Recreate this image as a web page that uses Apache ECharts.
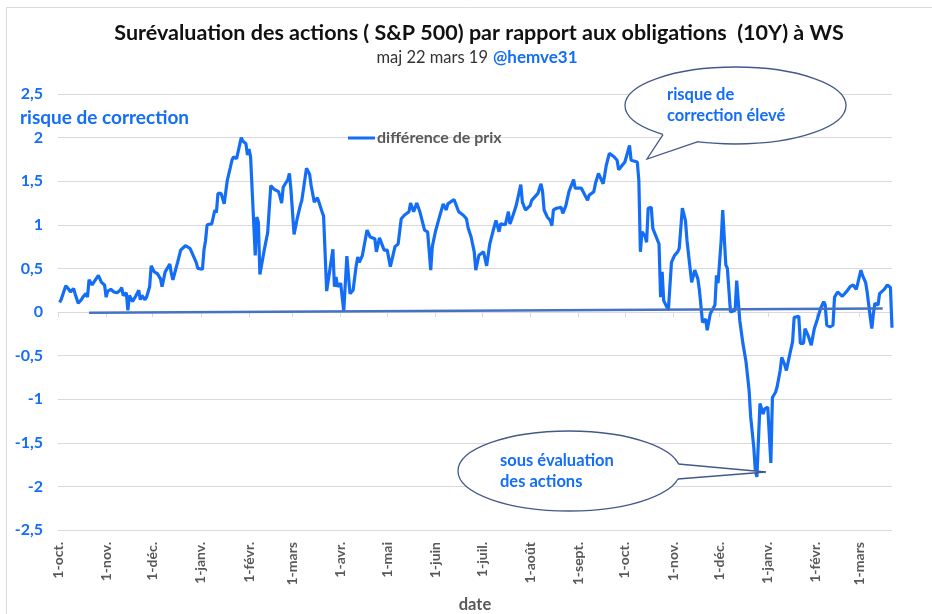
<!DOCTYPE html>
<html>
<head>
<meta charset="utf-8">
<script src="https://cdn.jsdelivr.net/npm/echarts@6/dist/echarts.min.js"></script>
<style>
  html, body { margin: 0; background: #fff; }
  #chart { width: 932px; height: 614px; }
</style>
</head>
<body>
<div id="chart"></div>
<script>
// axe des dates (un jour par catégorie)
var axisStart = '2017-10-01'
var axisEnd = '2019-03-22'
var monthNames = ['janv.', 'févr.', 'mars', 'avr.', 'mai', 'juin', 'juil.', 'août', 'sept.', 'oct.', 'nov.', 'déc.']

// différence de prix
var dates = [
  '2017-10-02', '2017-10-03', '2017-10-04', '2017-10-06', '2017-10-08', '2017-10-09', '2017-10-11', '2017-10-12',
  '2017-10-14', '2017-10-16', '2017-10-17', '2017-10-19', '2017-10-20', '2017-10-21', '2017-10-23', '2017-10-24',
  '2017-10-27', '2017-10-29', '2017-10-31', '2017-11-01', '2017-11-02', '2017-11-04', '2017-11-06', '2017-11-08',
  '2017-11-10', '2017-11-11', '2017-11-12', '2017-11-14', '2017-11-15', '2017-11-16', '2017-11-18', '2017-11-19',
  '2017-11-20', '2017-11-22', '2017-11-23', '2017-11-24', '2017-11-26', '2017-11-27', '2017-11-29', '2017-11-30',
  '2017-12-02', '2017-12-04', '2017-12-06', '2017-12-07', '2017-12-08', '2017-12-09', '2017-12-10', '2017-12-12',
  '2017-12-13', '2017-12-14', '2017-12-17', '2017-12-19', '2017-12-22', '2017-12-25', '2017-12-28', '2017-12-29',
  '2017-12-30', '2018-01-02', '2018-01-03', '2018-01-04', '2018-01-05', '2018-01-08', '2018-01-09', '2018-01-10',
  '2018-01-11', '2018-01-12', '2018-01-14', '2018-01-16', '2018-01-18', '2018-01-20', '2018-01-21', '2018-01-22',
  '2018-01-24', '2018-01-25', '2018-01-27', '2018-01-28', '2018-01-30', '2018-01-31', '2018-02-01', '2018-02-02',
  '2018-02-05', '2018-02-06', '2018-02-07', '2018-02-08', '2018-02-11', '2018-02-13', '2018-02-14', '2018-02-15',
  '2018-02-17', '2018-02-20', '2018-02-21', '2018-02-22', '2018-02-23', '2018-02-26', '2018-02-27', '2018-02-28',
  '2018-03-02', '2018-03-04', '2018-03-06', '2018-03-07', '2018-03-08', '2018-03-10', '2018-03-12', '2018-03-13',
  '2018-03-15', '2018-03-17', '2018-03-18', '2018-03-20', '2018-03-21', '2018-03-23', '2018-03-27', '2018-03-28',
  '2018-03-29', '2018-03-30', '2018-04-01', '2018-04-03', '2018-04-05', '2018-04-07', '2018-04-09', '2018-04-11',
  '2018-04-12', '2018-04-13', '2018-04-15', '2018-04-18', '2018-04-20', '2018-04-23', '2018-04-24', '2018-04-26',
  '2018-04-29', '2018-05-01', '2018-05-03', '2018-05-06', '2018-05-08', '2018-05-10', '2018-05-12', '2018-05-15',
  '2018-05-16', '2018-05-18', '2018-05-20', '2018-05-22', '2018-05-25', '2018-05-27', '2018-05-29', '2018-05-30',
  '2018-06-01', '2018-06-03', '2018-06-06', '2018-06-08', '2018-06-09', '2018-06-13', '2018-06-16', '2018-06-19',
  '2018-06-21', '2018-06-22', '2018-06-24', '2018-06-26', '2018-06-27', '2018-06-29', '2018-07-02', '2018-07-04',
  '2018-07-06', '2018-07-08', '2018-07-10', '2018-07-12', '2018-07-13', '2018-07-16', '2018-07-18', '2018-07-19',
  '2018-07-21', '2018-07-23', '2018-07-26', '2018-07-27', '2018-07-29', '2018-08-01', '2018-08-02', '2018-08-06',
  '2018-08-08', '2018-08-09', '2018-08-10', '2018-08-12', '2018-08-14', '2018-08-15', '2018-08-16', '2018-08-18',
  '2018-08-21', '2018-08-22', '2018-08-24', '2018-08-26', '2018-08-29', '2018-08-30', '2018-09-03', '2018-09-07',
  '2018-09-08', '2018-09-11', '2018-09-12', '2018-09-14', '2018-09-17', '2018-09-18', '2018-09-19', '2018-09-21',
  '2018-09-24', '2018-09-26', '2018-09-27', '2018-10-01', '2018-10-04', '2018-10-05', '2018-10-09', '2018-10-10',
  '2018-10-11', '2018-10-12', '2018-10-14', '2018-10-15', '2018-10-16', '2018-10-18', '2018-10-19', '2018-10-20',
  '2018-10-23', '2018-10-24', '2018-10-25', '2018-10-26', '2018-10-29', '2018-10-31', '2018-11-02', '2018-11-04',
  '2018-11-05', '2018-11-07', '2018-11-09', '2018-11-10', '2018-11-13', '2018-11-15', '2018-11-17', '2018-11-18',
  '2018-11-20', '2018-11-22', '2018-11-23', '2018-11-25', '2018-11-28', '2018-11-29', '2018-11-30', '2018-12-02',
  '2018-12-03', '2018-12-05', '2018-12-06', '2018-12-08', '2018-12-11', '2018-12-12', '2018-12-14', '2018-12-16',
  '2018-12-18', '2018-12-20', '2018-12-21', '2018-12-23', '2018-12-24', '2018-12-25', '2018-12-27', '2018-12-28',
  '2018-12-29', '2018-12-30', '2019-01-01', '2019-01-03', '2019-01-04', '2019-01-06', '2019-01-07', '2019-01-09',
  '2019-01-10', '2019-01-12', '2019-01-13', '2019-01-15', '2019-01-17', '2019-01-18', '2019-01-19', '2019-01-21',
  '2019-01-22', '2019-01-24', '2019-01-25', '2019-01-27', '2019-01-29', '2019-01-31', '2019-02-02', '2019-02-04',
  '2019-02-06', '2019-02-07', '2019-02-08', '2019-02-10', '2019-02-12', '2019-02-13', '2019-02-15', '2019-02-18',
  '2019-02-21', '2019-02-23', '2019-02-25', '2019-02-27', '2019-02-28', '2019-03-02', '2019-03-03', '2019-03-05',
  '2019-03-06', '2019-03-08', '2019-03-09', '2019-03-10', '2019-03-11', '2019-03-13', '2019-03-14', '2019-03-17',
  '2019-03-19', '2019-03-20', '2019-03-21', '2019-03-22'
]
var values = [
  0.11, 0.14, 0.16, 0.30, 0.26, 0.23, 0.27, 0.21,
  0.10, 0.14, 0.17, 0.21, 0.17, 0.37, 0.31, 0.34,
  0.42, 0.34, 0.31, 0.17, 0.24, 0.26, 0.23, 0.22,
  0.25, 0.28, 0.19, 0.22, 0.02, 0.19, 0.12, 0.14,
  0.18, 0.25, 0.14, 0.19, 0.14, 0.17, 0.29, 0.53,
  0.46, 0.44, 0.38, 0.29, 0.27, 0.46, 0.48, 0.55,
  0.44, 0.37, 0.57, 0.71, 0.76, 0.73, 0.61, 0.57,
  0.50, 0.49, 0.71, 0.82, 1.00, 1.01, 1.03, 1.17,
  1.14, 1.36, 1.36, 1.24, 1.51, 1.66, 1.74, 1.78,
  1.76, 1.75, 2.00, 1.96, 1.93, 1.80, 1.87, 1.78,
  0.65, 1.09, 1.03, 0.43, 0.73, 0.91, 0.93, 1.45,
  1.41, 1.38, 1.32, 1.25, 1.43, 1.52, 1.59, 1.40,
  0.89, 1.07, 1.22, 1.28, 1.29, 1.65, 1.58, 1.45,
  1.26, 1.31, 1.26, 1.15, 1.10, 0.24, 0.72, 0.29,
  0.40, 0.29, 0.33, 0.01, 0.64, 0.21, 0.25, 0.53,
  0.63, 0.57, 0.65, 0.94, 0.86, 0.84, 0.69, 0.85,
  0.71, 0.71, 0.52, 0.75, 0.78, 1.07, 1.11, 1.15,
  1.25, 1.15, 1.25, 1.15, 0.94, 0.92, 0.48, 0.75,
  0.92, 1.05, 1.24, 1.17, 1.24, 1.29, 1.15, 1.11,
  1.07, 0.97, 0.86, 0.69, 0.48, 0.65, 0.69, 0.53,
  0.78, 0.92, 1.05, 0.92, 1.01, 1.00, 1.15, 1.01,
  1.11, 1.22, 1.46, 1.26, 1.17, 1.22, 1.28, 1.36,
  1.47, 1.38, 1.17, 1.09, 1.05, 0.99, 1.17, 1.19,
  1.20, 1.13, 1.22, 1.38, 1.52, 1.42, 1.42, 1.28,
  1.34, 1.38, 1.47, 1.59, 1.47, 1.57, 1.68, 1.82,
  1.78, 1.74, 1.63, 1.72, 1.91, 1.74, 1.72, 1.51,
  0.69, 0.92, 0.87, 0.80, 1.19, 1.20, 0.96, 0.94,
  0.78, 0.17, 0.46, 0.13, 0.02, 0.57, 0.65, 0.69,
  0.73, 1.19, 1.05, 0.82, 0.34, 0.48, 0.38, 0.25,
  -0.12, -0.08, -0.21, -0.02, 0.08, 0.42, 0.33, 0.82,
  1.17, 0.54, 0.50, 0.00, 0.02, 0.36, -0.10, -0.36,
  -0.57, -0.90, -1.20, -1.55, -1.82, -1.89, -1.05, -1.03,
  -1.17, -1.11, -1.09, -1.73, -0.98, -0.92, -0.86, -0.67,
  -0.52, -0.61, -0.67, -0.50, -0.34, -0.06, -0.04, -0.05,
  -0.36, -0.36, -0.19, -0.27, -0.38, -0.19, -0.08, 0.04,
  0.12, 0.08, -0.15, -0.17, -0.15, 0.17, 0.23, 0.18,
  0.24, 0.29, 0.31, 0.26, 0.33, 0.48, 0.42, 0.34,
  0.23, -0.06, -0.19, -0.02, 0.10, 0.08, 0.21, 0.26,
  0.31, 0.33, 0.28, -0.18
]

// tendance linéaire (début / fin)
var trendDates = ['2017-10-21', '2019-03-16']
var trendValues = [-0.01, 0.04]

var blue = '#146ef5'
var grey = '#595959'
var font = 'Lato, "Open Sans", sans-serif'

function dayList(from, to) {
  var out = []
  var t = Date.parse(from + 'T00:00:00Z')
  var end = Date.parse(to + 'T00:00:00Z')
  for (; t <= end; t += 86400000) {
    out.push(new Date(t).toISOString().slice(0, 10))
  }
  return out
}
var days = dayList(axisStart, axisEnd)
var isMonthStart = function(index, value) {
  return value.slice(8) === '01'
}

var option = {
  animation: false,
  textStyle: { fontFamily: font },
  grid: { left: 58, right: 40, top: 94, bottom: 84, outerBoundsMode: 'none', containLabel: false },
  legend: {
    data: [{ name: 'différence de prix', icon: 'rect' }],
    left: 343,
    top: 125,
    itemWidth: 27,
    itemHeight: 3,
    itemStyle: { color: blue },
    textStyle: { color: grey, fontWeight: 'bold', fontSize: 16, fontFamily: font, padding: [0, 0, 0, -3] }
  },
  xAxis: [{
    type: 'category',
    data: days,
    boundaryGap: false,
    position: 'bottom',
    name: 'date',
    nameLocation: 'middle',
    nameGap: 66,
    nameTextStyle: { color: grey, fontWeight: 'bold', fontSize: 16.5 },
    axisLine: { show: false, onZero: false },
    axisTick: { show: false },
    splitLine: { show: false },
    axisLabel: {
      interval: isMonthStart,
      rotate: 90,
      margin: 12,
      color: grey,
      fontWeight: 'bold',
      fontSize: 14,
      formatter: function(v) {
        return '1-' + monthNames[parseInt(v.slice(5, 7), 10) - 1]
      }
    }
  }, {
    // ligne du zéro avec les graduations mensuelles
    type: 'category',
    data: days,
    boundaryGap: false,
    position: 'top',
    axisLine: { show: true, onZero: true, lineStyle: { color: '#d9d9d9', width: 1 } },
    axisTick: { show: true, inside: true, length: 5, interval: isMonthStart, lineStyle: { color: '#d9d9d9' } },
    axisLabel: { show: false },
    splitLine: { show: false }
  }],
  yAxis: {
    type: 'value',
    min: -2.5,
    max: 2.5,
    interval: 0.5,
    axisLine: { show: false },
    axisTick: { show: false },
    splitLine: { lineStyle: { color: '#d9d9d9', width: 1 } },
    axisLabel: {
      margin: 15,
      color: blue,
      fontWeight: 'bold',
      fontSize: 16,
      formatter: function(v) {
        return String(v).replace('.', ',')
      }
    }
  },
  series: [{
    name: 'différence de prix',
    type: 'line',
    xAxisIndex: 0,
    symbol: 'none',
    color: blue,
    lineStyle: { width: 3.2, color: blue },
    z: 3,
    data: dates.map(function(d, i) { return [d, values[i]] })
  }, {
    name: 'tendance',
    type: 'line',
    xAxisIndex: 0,
    symbol: 'none',
    silent: true,
    lineStyle: { width: 2.5, color: '#4472c4' },
    z: 4,
    data: trendDates.map(function(d, i) { return [d, trendValues[i]] })
  }],
  graphic: [
    // cadre
    { type: 'rect', shape: { x: 6.5, y: 7.5, width: 960, height: 640 }, style: { fill: 'none', stroke: '#d9d9d9', lineWidth: 1 }, silent: true },
    // titres
    { type: 'text', x: 479, y: 33, style: { text: 'Surévaluation des actions ( S&P 500) par rapport aux obligations  (10Y) à WS', font: 'bold 21.5px ' + font, fill: '#111', align: 'center', verticalAlign: 'middle' } },
    { type: 'text', x: 488, y: 58, style: { text: 'maj 22 mars 19', font: '16.5px ' + font, fill: '#333', align: 'right', verticalAlign: 'middle' } },
    { type: 'text', x: 493, y: 58, style: { text: '@hemve31', font: 'bold 17px ' + font, fill: blue, align: 'left', verticalAlign: 'middle' } },
    { type: 'text', x: 20, y: 118, style: { text: 'risque de correction', font: 'bold 19px ' + font, fill: blue, align: 'left', verticalAlign: 'middle' } },
    // bulle haute
    { type: 'ellipse', shape: { cx: 735.5, cy: 105.5, rx: 110.5, ry: 38.5 }, style: { fill: '#fff', stroke: '#44598a', lineWidth: 1.3 }, z: 10 },
    { type: 'polygon', shape: { points: [[663, 134.6], [647, 159], [698, 141.7], [698, 136], [663, 130]] }, style: { fill: '#fff' }, z: 11 },
    { type: 'polyline', shape: { points: [[663, 134.6], [647, 159], [698, 141.7]] }, style: { fill: 'none', stroke: '#44598a', lineWidth: 1.3 }, z: 12 },
    { type: 'text', x: 667, y: 95, style: { text: 'risque de', font: 'bold 16.5px ' + font, fill: blue, verticalAlign: 'middle' }, z: 13 },
    { type: 'text', x: 667, y: 116, style: { text: 'correction élevé', font: 'bold 16.5px ' + font, fill: blue, verticalAlign: 'middle' }, z: 13 },
    // bulle basse
    { type: 'ellipse', shape: { cx: 569, cy: 471, rx: 111, ry: 40 }, style: { fill: '#fff', stroke: '#44598a', lineWidth: 1.3 }, z: 10 },
    { type: 'polygon', shape: { points: [[678.3, 464], [766, 472], [677.8, 479], [672, 479], [672, 464]] }, style: { fill: '#fff' }, z: 11 },
    { type: 'polyline', shape: { points: [[678.3, 464], [766, 472], [677.8, 479]] }, style: { fill: 'none', stroke: '#44598a', lineWidth: 1.3 }, z: 12 },
    { type: 'text', x: 500, y: 461, style: { text: 'sous évaluation', font: 'bold 16.5px ' + font, fill: blue, verticalAlign: 'middle' }, z: 13 },
    { type: 'text', x: 500, y: 482, style: { text: 'des actions', font: 'bold 16.5px ' + font, fill: blue, verticalAlign: 'middle' }, z: 13 }
  ]
}

var myChart = echarts.init(document.getElementById('chart'))
myChart.setOption(option)
</script>
</body>
</html>
